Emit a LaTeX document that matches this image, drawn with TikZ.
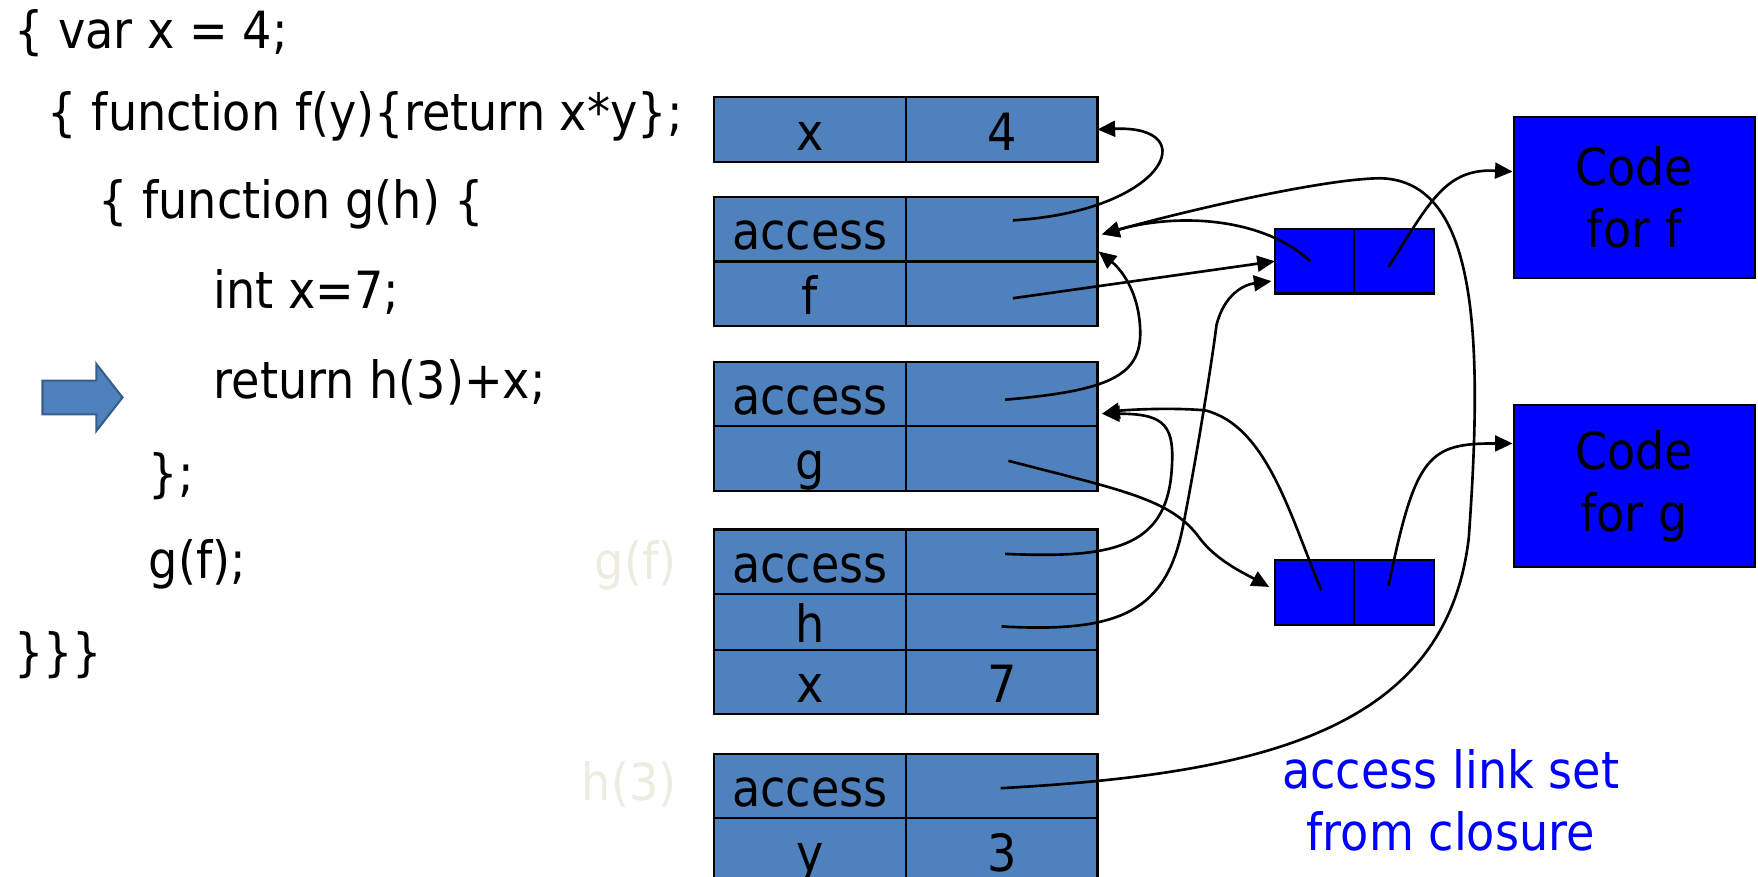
\documentclass[tikz,border=0pt]{standalone}
\usepackage{fontspec}
\setmainfont{DejaVu Sans}[FakeStretch=0.9]
\usetikzlibrary{positioning, calc, arrows.meta, shapes.arrows}
\definecolor{framefill}{RGB}{79,129,189}
\definecolor{arrowdraw}{RGB}{56,93,138}
\definecolor{ghostlabel}{RGB}{238,236,225}
\definecolor{closureblue}{RGB}{0,0,255}
\newcommand{\slidefont}{\fontsize{14.6pt}{17.6pt}\selectfont}
\tikzset{
    cell/.style={
        draw=black, line width=0.6pt, fill=framefill,
        minimum width=1.917cm, minimum height=0.645cm,
        inner sep=0pt, outer sep=0pt,
        text height=0.414cm, text depth=0pt, font=\slidefont
    },
    shortcell/.style={
        cell, minimum height=0.56cm
    },
    closurecell/.style={
        draw=black, line width=0.6pt, fill=closureblue,
        minimum width=0.796cm, minimum height=0.645cm,
        inner sep=0pt, outer sep=0pt
    },
    codebox/.style={
        draw=black, line width=0.6pt, fill=closureblue,
        minimum width=2.41cm, minimum height=1.615cm,
        align=center, font=\slidefont
    },
    codeline/.style={
        anchor=base west, inner sep=0pt, font=\slidefont
    },
    link/.style={
        -{Triangle[length=5pt, width=4.5pt]}, line width=0.75pt
    }
}

\begin{document}
\begin{tikzpicture}[
        x=0.011212cm, y=-0.011212cm,
        % label for a frame, grey on white
        framelabel/.style={
            anchor=base east, inner sep=0pt, font=\slidefont, text=ghostlabel
        },
        % fat arrow for the current line
        curline/.style={
            single arrow, draw=arrowdraw, fill=framefill, line width=0.6pt,
            minimum height=0.8cm, inner xsep=0pt, inner ysep=0.158cm,
            single arrow head extend=0.167cm, single arrow tip angle=104,
            anchor=tail
        }
    ]
        \useasboundingbox (0,0) rectangle (1568,782);

        % ==========================================
        % SOURCE CODE
        % ==========================================
        \node[codeline] (line1) at (12,43) {\{ var x = 4;};
        \node[codeline] (line2) at (42,116) {\{ function f(y)\{return x*y\};};
        \node[codeline] (line3) at (87,195) {\{ function g(h) \{};
        \node[codeline] (line4) at (190,275) {int x=7;};
        \node[codeline] (line5) at (190,355) {return h(3)+x;};
        \node[codeline] (line6) at (132,438) {\};};
        \node[codeline] (line7) at (132,516) {g(f);};
        \node[codeline] (line8) at (12,598) {\}\}\}};

        \node[curline] (curarrow) at (37,354.5) {};

        % ==========================================
        % STACK FRAMES
        % ==========================================
        \node[cell] (x1n) at (722.5,115.5) {x};
        \node[cell, right=0pt of x1n] (x1v) {4};

        \node[cell] (acc2n) at (722.5,204.5) {access};
        \node[cell, right=0pt of acc2n] (acc2v) {};
        \node[cell, below=0pt of acc2n] (f2n) {f};
        \node[cell, right=0pt of f2n] (f2v) {};

        \node[cell] (acc3n) at (722.5,351.5) {access};
        \node[cell, right=0pt of acc3n] (acc3v) {};
        \node[cell, below=0pt of acc3n] (g3n) {g};
        \node[cell, right=0pt of g3n] (g3v) {};

        \node[cell] (acc4n) at (722.5,501) {access};
        \node[cell, right=0pt of acc4n] (acc4v) {};
        \node[shortcell, below=0pt of acc4n] (h4n) {h};
        \node[shortcell, right=0pt of h4n] (h4v) {};
        \node[cell, below=0pt of h4n] (x4n) {x};
        \node[cell, right=0pt of x4n] (x4v) {7};

        \node[cell] (acc5n) at (722.5,701) {access};
        \node[cell, right=0pt of acc5n] (acc5v) {};
        \node[cell, below=0pt of acc5n] (y5n) {y};
        \node[cell, right=0pt of y5n] (y5v) {3};

        \node[framelabel] (gflabel) at (604,517) {g(f)};
        \node[framelabel] (h3label) at (604,714) {h(3)};

        % ==========================================
        % CLOSURES AND CODE
        % ==========================================
        \node[closurecell] (clf) at (1172.5,233) {};
        \node[closurecell, right=0pt of clf] (clfc) {};
        \node[closurecell] (clg) at (1172.5,528.5) {};
        \node[closurecell, right=0pt of clg] (clgc) {};

        \node[codebox] (codef) at (1457.5,176) {Code\\for f};
        \node[codebox] (codeg) at (1457.5,433.5) {Code\\for g};

        \node[align=center, font=\slidefont, text=closureblue] (note) at (1294,713.5) {access link set\\from closure};

        % ==========================================
        % POINTERS
        % ==========================================
        % access links between frames
        \draw[link] ($(acc2v)+(10,-8)$) .. controls +(136,-8) and +(96,-4) .. (x1v.east);
        \draw[link] ($(acc3v)+(3,5)$) .. controls +(93,-8) and +(1,40) .. (1017,295)
            .. controls +(-1,-35) and +(20,16) .. ($(acc2v.south east)+(1,-9)$);
        \draw[link] ($(acc4v)+(3,-7)$) .. controls +(93,4) and +(-5,70) .. (1045,420)
            .. controls +(3,-40) and +(57,0) .. ($(acc3v.east)+(4,17.5)$);

        % closure values stored in frames
        \draw[link] ($(f2v)+(10,4)$) -- (clf.west);
        \draw[link] ($(g3v)+(6,2)$) .. controls +(100,26) and +(-25,-35) .. (1070,480)
            .. controls +(15,20) and +(-22,-12) .. ($(clg.west)+(-5,-5)$);
        \draw[link] ($(h4v)+(0,4)$) .. controls +(106,6) and +(-15,75) .. (1055,470)
            .. controls +(10,-50) and +(-5,40) .. (1085,290)
            .. controls +(7,-28) and +(-24,3) .. ($(clf.south west)+(-3,-11)$);

        % environment part of each closure
        \draw[link] ($(clf)+(-4,0)$) .. controls +(-40,-38) and +(70,-20) .. ($(acc2v.east)+(4,4.5)$);
        \draw[link] ($(clg)+(6,-2)$) .. controls +(-28,-67) and +(55,14) .. (1075,366)
            .. controls +(-35,-3) and +(17,-3) .. ($(acc3v.east)+(4,17.5)$);

        % code part of each closure
        \draw[link] ($(clfc)+(-5,5)$) .. controls +(37,-58) and +(-60,-3) .. ($(codef.west)+(0,-23)$);
        \draw[link] ($(clgc)+(-5,-6)$) .. controls +(24,-117) and +(-75,0) .. ($(codeg.west)+(0,-38)$);

        % access link of h(3) taken from the closure
        \draw[link] ($(acc5v)+(-1,2)$) .. controls +(237,-13) and +(-20,170) .. (1310,480)
            .. controls +(13,-180) and +(86,3) .. (1232,159)
            .. controls +(-52,0) and +(67,-19) .. ($(acc2v.east)+(4,4.5)$);

\end{tikzpicture}
\end{document}
